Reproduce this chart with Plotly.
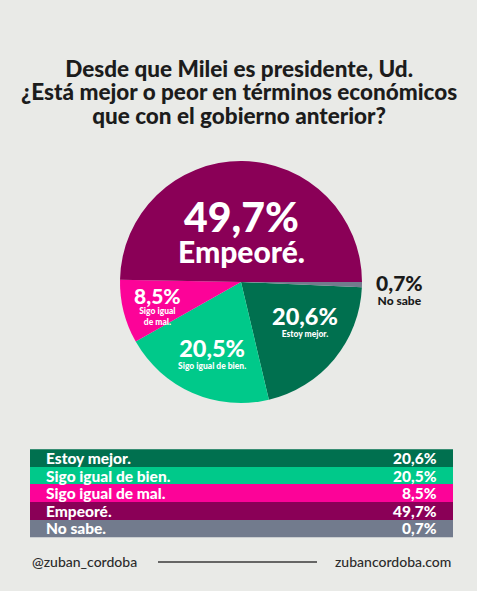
import plotly.graph_objects as go

# data
categorias = ['Estoy mejor.', 'Sigo igual de bien.', 'Sigo igual de mal.', 'Empeoré.', 'No sabe.']
valores = [20.6, 20.5, 8.5, 49.7, 0.7]
colores = ['#00704f', '#00c98a', '#fc0398', '#8a0057', '#727b8d']

# etiquetas dentro de la torta (texto corto de cada porción)
etiquetas_pie = ['Estoy mejor.', 'Sigo igual de bien.', 'Sigo igual<br>de mal.', 'Empeoré.', 'No sabe']

W, H = 477, 591
FONT = 'Lato'
BG = '#e9eae7'


def fmt(v):
    return f'{v:.1f}'.replace('.', ',') + '%'


def px_x(x):
    return x / W


def px_y(y):
    return 1 - y / H


def span(txt, size):
    # cada linea con su tamaño propio
    return '<br>'.join(f'<span style="font-size:{size}px">{t}</span>' for t in txt.split('<br>'))


# pie: centro (241, 282), radio ~120 px
cx, cy, r = 241, 282, 121
fig = go.Figure()
fig.add_trace(go.Pie(
    labels=categorias,
    values=valores,
    sort=False,
    direction='clockwise',
    rotation=90 + valores[-1] * 3.6,
    marker=dict(colors=colores, line=dict(width=0)),
    textinfo='none',
    hoverinfo='label+value',
    showlegend=False,
    domain=dict(x=[px_x(cx - r), px_x(cx + r)], y=[px_y(cy + r), px_y(cy - r)]),
))

# tabla como heatmap de una columna (una celda por categoría)
n = len(categorias)
escala = [[i / (n - 1), c] for i, c in enumerate(colores)]
fig.add_trace(go.Heatmap(
    z=[[i] for i in range(n)],
    x=[0],
    y=categorias,
    zmin=0, zmax=n - 1,
    colorscale=escala,
    showscale=False,
    hoverinfo='skip',
    xaxis='x2', yaxis='y2',
))

annotations = []

# (indice, x, y centro, tamaño numero, tamaño texto, tamaño base (interlineado), color)
pos_labels = [
    (0, 305, 320, 23.5, 8.5, 9, 'white'),
    (1, 212, 352, 23.5, 8.5, 9, 'white'),
    (2, 157, 305, 21, 8.5, 8, 'white'),
    (3, 241, 230, 41, 30, 23.5, 'white'),
    (4, 399, 289, 21, 12, 11, '#1a1a1a'),
]
for i, x, y, s1, s2, base, col in pos_labels:
    annotations.append(dict(
        x=px_x(x), y=px_y(y), xref='paper', yref='paper', showarrow=False,
        text=span(fmt(valores[i]), s1) + '<br>' + span(etiquetas_pie[i], s2),
        font=dict(family=FONT, size=base, color=col, weight=900),
        xanchor='center', yanchor='middle', align='center', borderpad=0))

# textos de la tabla
for c, v in zip(categorias, valores):
    annotations.append(dict(
        x=0.033, y=c, xref='x2 domain', yref='y2', showarrow=False,
        text=c, font=dict(family=FONT, size=15.5, color='white', weight=900),
        xanchor='left', yanchor='middle'))
    annotations.append(dict(
        x=0.967, y=c, xref='x2 domain', yref='y2', showarrow=False,
        text=fmt(v), font=dict(family=FONT, size=15.5, color='white', weight=900),
        xanchor='right', yanchor='middle'))

# titulo
titulo = 'Desde que Milei es presidente, Ud.<br>¿Está mejor o peor en términos económicos<br>que con el gobierno anterior?'
annotations.append(dict(
    x=0.5, y=px_y(92), xref='paper', yref='paper', showarrow=False,
    text=span(titulo, 22.5),
    font=dict(family=FONT, size=18, color='#1c1c1c', weight=900),
    xanchor='center', yanchor='middle'))

# pie de pagina
annotations.append(dict(
    x=px_x(30), y=px_y(561), xref='paper', yref='paper', showarrow=False,
    text='@zuban_cordoba', font=dict(family=FONT, size=14, color='#2b2b2b', weight=500),
    xanchor='left', yanchor='middle'))
annotations.append(dict(
    x=px_x(453), y=px_y(561), xref='paper', yref='paper', showarrow=False,
    text='zubancordoba.com', font=dict(family=FONT, size=14, color='#2b2b2b', weight=500),
    xanchor='right', yanchor='middle'))

fig.update_layout(
    width=W, height=H,
    margin=dict(l=0, r=0, t=0, b=0),
    paper_bgcolor=BG,
    plot_bgcolor=BG,
    annotations=annotations,
    xaxis2=dict(domain=[px_x(30), px_x(453)], anchor='y2', visible=False, fixedrange=True),
    yaxis2=dict(domain=[px_y(539), px_y(447)], anchor='x2', visible=False,
                autorange='reversed', fixedrange=True),
    shapes=[dict(type='line', xref='paper', yref='paper',
                 x0=px_x(158), x1=px_x(317), y0=px_y(562), y1=px_y(562),
                 line=dict(color='#3a3a3a', width=1.5))],
)

fig.write_html('out.html', config={'displayModeBar': False},
               post_script="document.body.style.margin='0';document.body.style.overflow='hidden';")
